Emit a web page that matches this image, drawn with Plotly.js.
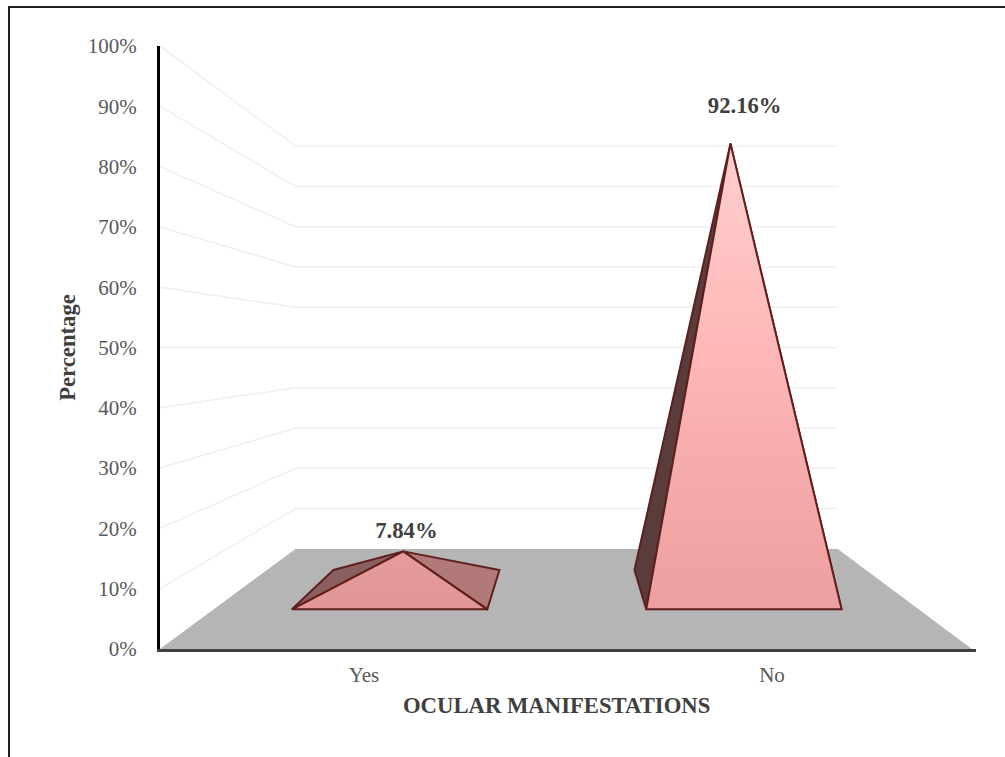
<!DOCTYPE html>
<html>
<head>
<meta charset="utf-8">
<script src="https://cdn.plot.ly/plotly-3.0.1.min.js"></script>
<style>
  html, body { margin: 0; padding: 0; background: #fff; overflow: hidden; }
  #frame { position: absolute; left: 8px; top: 6px; right: 0; bottom: 0;
           border-left: 2px solid #1f1f1f; border-top: 2px solid #1f1f1f;
           box-sizing: border-box; pointer-events: none; }
</style>
</head>
<body>
<div id="chart" style="width:1005px;height:757px"></div>
<div id="frame"></div>
<script>
// Share of patients by presence of ocular manifestations
const categories = ['Yes', 'No'];
const percentages = [7.84, 92.16];
const yTicks = [0, 10, 20, 30, 40, 50, 60, 70, 80, 90, 100];

// Pyramid chart scene: every point is (category position, value, depth) and
// is projected towards the centre of the plot, depth 0 = front, 1 = back wall.
const centreX = 1.5, centreY = 50, perspective = 0.497;
const floorLeft = 0.5, floorRight = 2.49;
const pyramidHalfWidth = 0.2757, pyramidOffset = -0.0035;
const depthFront = 0.305, depthBack = 0.715, depthApex = 0.497;

function project(x, y, d) {
  const s = 1 / (1 + perspective * d);
  return [centreX + s * (x - centreX), centreY + s * (y - centreY)];
}

const serif = '"Liberation Serif", "Times New Roman", serif';
const edge = '#5f1f1f';
const regularSize = 21, boldSize = 22.7;

function polygon(points, style, name) {
  const p = points.map(q => project(q[0], q[1], q[2]));
  p.push(p[0]);
  return Object.assign({
    type: 'scatter', mode: 'lines', x: p.map(q => q[0]), y: p.map(q => q[1]),
    fill: 'toself', showlegend: false, hoverinfo: 'skip', name: name,
    line: { color: edge, width: 2 }
  }, style);
}

const traces = [];

// Back-wall and side-wall gridlines
yTicks.slice(1).forEach(v => {
  const a = project(floorLeft, v, 0), b = project(floorLeft, v, 1), c = project(floorRight, v, 1);
  traces.push({
    type: 'scatter', mode: 'lines', x: [a[0], b[0], c[0]], y: [a[1], b[1], c[1]],
    line: { color: '#efefef', width: 1.5 }, showlegend: false, hoverinfo: 'skip'
  });
});

// Floor
traces.push(polygon(
  [[floorLeft, 0, 0], [floorLeft, 0, 1], [floorRight, 0, 1], [floorRight, 0, 0]],
  { fillcolor: '#b5b5b5', line: { width: 0, color: '#b5b5b5' } }, 'floor'));

// Pyramids: side faces behind, lit front face on top
const palette = [
  { left: '#8a5f5f', right: '#b17977',
    front: [[0, '#e19695'], [1, '#e59c9a']] },
  { left: '#5a3c3c', right: '#b17977',
    front: [[0, '#ee9f9f'], [0.3, '#f6abab'], [0.55, '#ffb7b7'], [1, '#ffcfcf']] }
];
percentages.forEach((value, i) => {
  const cx = i + 1 + pyramidOffset;
  const x0 = cx - pyramidHalfWidth, x1 = cx + pyramidHalfWidth;
  const apex = [cx, value, depthApex];
  const fl = [x0, 0, depthFront], fr = [x1, 0, depthFront];
  const bl = [x0, 0, depthBack], br = [x1, 0, depthBack];
  traces.push(polygon([apex, fr, br], { fillcolor: palette[i].right }, categories[i] + ' right'));
  traces.push(polygon([apex, bl, fl], { fillcolor: palette[i].left }, categories[i] + ' left'));
  traces.push(polygon([apex, fl, fr], {
    fillgradient: { type: 'vertical', colorscale: palette[i].front }
  }, categories[i] + ' front'));
});

// Value labels placed relative to each apex
const labelShiftX = [0.005, 0.032];
const labelShiftY = [3.15, 6.05];
const labelPoints = percentages.map((v, i) => project(i + 1, v, depthApex));
traces.push({
  type: 'scatter', mode: 'text',
  x: labelPoints.map((p, i) => p[0] + labelShiftX[i]),
  y: labelPoints.map((p, i) => p[1] + labelShiftY[i]),
  text: percentages.map(v => v.toFixed(2) + '%'),
  textposition: 'middle center',
  textfont: { family: serif, size: boldSize, color: '#404040', weight: 'bold' },
  showlegend: false, hoverinfo: 'skip'
});

const layout = {
  width: 1005, height: 757,
  margin: { l: 160, r: 29, t: 46, b: 108 },
  paper_bgcolor: '#ffffff', plot_bgcolor: '#ffffff',
  showlegend: false,
  font: { family: serif, color: '#595959', size: regularSize },
  xaxis: {
    range: [0.5, 2.5], tickvals: [1, 2], ticktext: categories, ticks: '',
    ticklabelstandoff: 5,
    showgrid: false, zeroline: false, showline: true, linecolor: '#404040', linewidth: 3,
    tickfont: { family: serif, size: regularSize, color: '#595959' },
    title: { text: 'OCULAR MANIFESTATIONS&#160;&#160;&#160;&#160;', standoff: 11,
             font: { family: serif, size: boldSize, color: '#404040', weight: 'bold' } }
  },
  yaxis: {
    range: [0, 100], tickvals: yTicks, ticktext: yTicks.map(v => v + '%'), ticks: '',
    ticklabelstandoff: 16,
    showgrid: false, zeroline: false, showline: true, linecolor: '#000000', linewidth: 3,
    tickfont: { family: serif, size: regularSize, color: '#595959' },
    title: { text: 'Percentage', standoff: 6,
             font: { family: serif, size: boldSize, color: '#404040', weight: 'bold' } }
  }
};

Plotly.newPlot('chart', traces, layout, { displayModeBar: false, responsive: false });
</script>
</body>
</html>
